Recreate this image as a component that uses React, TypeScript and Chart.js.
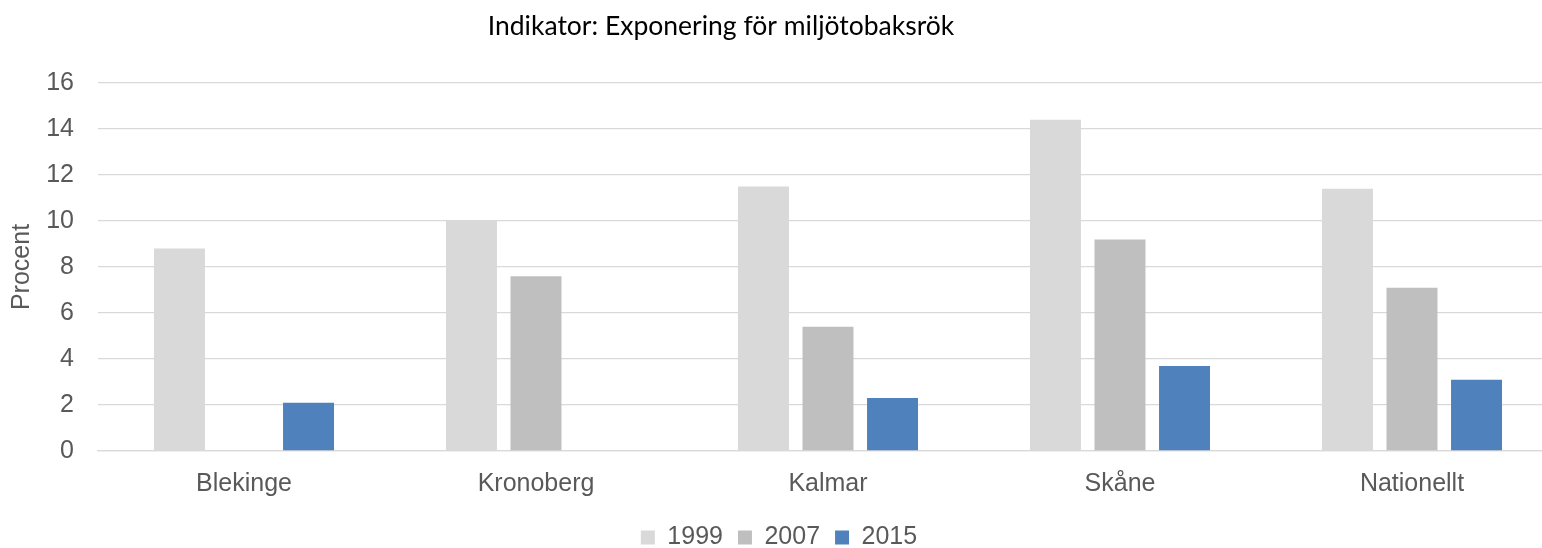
import React, { useEffect, useRef } from "react";
import { Chart, registerables } from "chart.js";

Chart.register(...registerables);

const categories = ["Blekinge", "Kronoberg", "Kalmar", "Skåne", "Nationellt"];
const seriesLabels = ["1999", "2007", "2015"];
const values1999 = [8.8, 10.0, 11.5, 14.4, 11.4];
const values2007 = [null, 7.6, 5.4, 9.2, 7.1];
const values2015 = [2.1, null, 2.3, 3.7, 3.1];
const seriesColors = ["#d9d9d9", "#bfbfbf", "#4f81bd"];
const titleText = "Indikator: Exponering för miljötobaksrök";
const yTitle = "Procent";
const yMin = 0;
const yMax = 16;
const yStep = 2;

const titlePlugin = {
  id: "customTitle",
  afterDraw(chart: any) {
    const ctx = chart.ctx;
    ctx.save();
    ctx.font = '26.5px Lato, "Open Sans", sans-serif';
    ctx.fillStyle = "#000000";
    ctx.textAlign = "center";
    ctx.textBaseline = "middle";
    ctx.fillText(titleText, 721, 26);
    ctx.restore();
  },
};

export default function App() {
  const ref = useRef<HTMLCanvasElement | null>(null);
  useEffect(() => {
    if (!ref.current) return;
    const font = '"Liberation Sans", Arial, sans-serif';
    const chart = new Chart(ref.current, {
      type: "bar",
      data: {
        labels: categories,
        datasets: [values1999, values2007, values2015].map((d, i) => ({
          label: seriesLabels[i],
          data: d as any,
          backgroundColor: seriesColors[i],
          borderWidth: 0,
          categoryPercentage: 0.663,
          barPercentage: 0.79,
        })),
      },
      options: {
        animation: false,
        responsive: false,
        maintainAspectRatio: false,
        layout: { padding: { top: 83, right: 0, bottom: 0, left: 0 } },
        plugins: {
          title: { display: false },
          tooltip: { enabled: false },
          legend: {
            position: "bottom",
            labels: {
              font: { family: font, size: 25 },
              color: "#595959",
              boxWidth: 14,
              boxHeight: 14,
              padding: 15,
            },
          },
        },
        scales: {
          x: {
            grid: { display: false },
            border: { display: true, color: "#d9d9d9", width: 1.3 },
            ticks: { font: { family: font, size: 25 }, color: "#595959", padding: 10 },
            afterFit(scale: any) {
              scale.height = 59;
            },
          },
          y: {
            min: yMin,
            max: yMax,
            ticks: {
              stepSize: yStep,
              font: { family: font, size: 25 },
              color: "#595959",
              padding: 24,
            },
            grid: { color: "#d9d9d9", lineWidth: 1.3, drawTicks: false },
            border: { display: false },
            title: {
              display: true,
              text: yTitle,
              font: { family: font, size: 25 },
              color: "#595959",
              padding: { top: 7, bottom: 0 },
            },
            afterFit(scale: any) {
              scale.width = 98;
            },
          },
        },
      },
      plugins: [titlePlugin],
    });
    return () => chart.destroy();
  }, []);
  return (
    <div
      style={{
        position: "fixed",
        left: 0,
        top: 0,
        width: 1542,
        height: 548,
        overflow: "hidden",
        background: "#ffffff",
      }}
    >
      <canvas ref={ref} width={1558} height={560} style={{ display: "block" }} />
    </div>
  );
}
